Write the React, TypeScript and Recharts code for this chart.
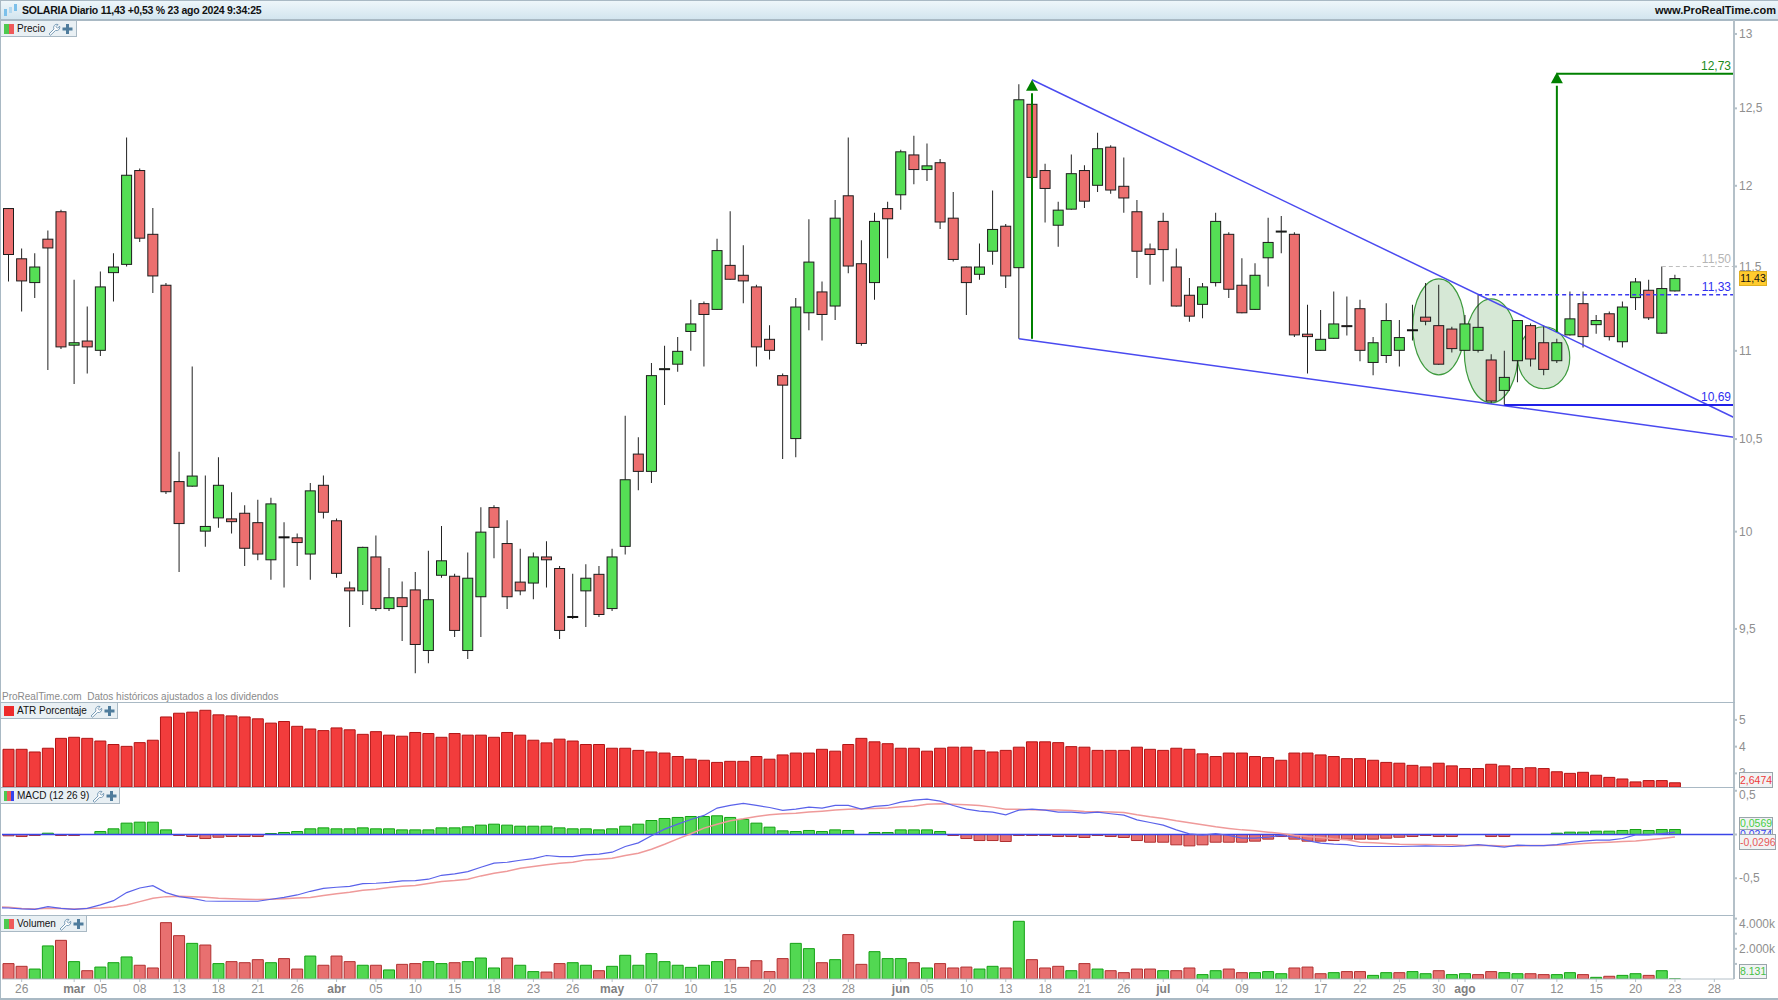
import { Bar, Cell, ComposedChart, Line, ReferenceDot, ReferenceLine, XAxis, YAxis } from 'recharts';

const opens = [
  11.86, 11.55, 11.40, 11.67, 11.84, 11.03, 11.06, 11.00, 11.46, 11.51,
  12.10, 11.70, 11.39, 10.27, 10.24, 10.00, 10.07, 10.07, 10.10, 10.05,
  9.85, 9.97, 9.97, 9.88, 10.25, 10.06, 9.71, 9.69, 9.87, 9.60,
  9.66, 9.70, 9.39, 9.77, 9.77, 9.39, 9.66, 10.13, 9.94, 9.74,
  9.73, 9.87, 9.81, 9.56, 9.69, 9.78, 9.60, 9.92, 10.42, 10.32,
  10.89, 10.92, 11.11, 11.28, 11.24, 11.51, 11.45, 11.38, 11.07, 10.86,
  10.50, 11.22, 11.35, 11.26, 11.94, 11.52, 11.40, 11.86, 11.94, 12.20,
  12.10, 12.15, 11.80, 11.50, 11.45, 11.59, 11.75, 11.49, 12.53, 12.10,
  11.75, 11.85, 12.10, 12.00, 12.25, 12.00, 11.84, 11.61, 11.78, 11.50,
  11.33, 11.27, 11.40, 11.70, 11.39, 11.24, 11.55, 11.71, 11.70, 11.10,
  11.00, 11.07, 11.15, 11.25, 10.93, 10.97, 11.00, 11.12, 11.20, 11.15,
  11.13, 11.00, 11.00, 10.95, 10.77, 10.94, 11.15, 11.05, 10.94, 11.09,
  11.28, 11.15, 11.22, 11.05, 11.31, 11.36, 11.10, 11.35,
];
const closes = [
  11.57, 11.41, 11.50, 11.61, 11.02, 11.05, 11.02, 11.38, 11.50, 12.07,
  11.67, 11.44, 10.21, 10.04, 10.30, 10.03, 10.25, 10.05, 9.91, 9.88,
  10.15, 9.97, 9.94, 10.22, 10.10, 9.78, 9.69, 9.92, 9.60, 9.66,
  9.61, 9.42, 9.65, 9.85, 9.49, 9.76, 10.00, 10.02, 9.66, 9.69,
  9.87, 9.85, 9.49, 9.56, 9.76, 9.57, 9.87, 10.28, 10.32, 10.86,
  10.90, 11.00, 11.16, 11.21, 11.60, 11.42, 11.41, 11.02, 11.00, 10.80,
  11.26, 11.53, 11.21, 11.80, 11.50, 11.04, 11.78, 11.79, 12.22, 12.10,
  12.13, 11.77, 11.54, 11.40, 11.50, 11.73, 11.44, 12.56, 12.05, 11.98,
  11.85, 12.08, 11.90, 12.24, 11.97, 11.92, 11.59, 11.57, 11.60, 11.26,
  11.20, 11.38, 11.78, 11.36, 11.22, 11.45, 11.65, 11.72, 11.09, 11.08,
  11.07, 11.16, 11.14, 11.00, 11.05, 11.18, 11.08, 11.12, 11.17, 10.92,
  11.01, 11.16, 11.14, 10.71, 10.85, 11.18, 10.95, 10.89, 11.05, 11.19,
  11.08, 11.18, 11.08, 11.26, 11.41, 11.19, 11.37, 11.43,
];
const highs = [
  11.86, 11.61, 11.58, 11.72, 11.85, 11.42, 11.26, 11.47, 11.58, 12.31,
  12.11, 11.86, 11.40, 10.43, 10.91, 10.30, 10.40, 10.21, 10.14, 10.17,
  10.18, 10.05, 9.99, 10.26, 10.30, 10.07, 9.74, 9.92, 9.98, 9.81,
  9.74, 9.79, 9.90, 10.03, 9.78, 9.89, 10.13, 10.14, 10.06, 9.91,
  9.89, 9.95, 9.82, 9.78, 9.83, 9.82, 9.91, 10.63, 10.51, 10.93,
  11.03, 11.08, 11.30, 11.29, 11.67, 11.84, 11.63, 11.39, 11.15, 10.87,
  11.31, 11.79, 11.41, 11.91, 12.31, 11.66, 11.83, 11.90, 12.23, 12.32,
  12.27, 12.17, 11.96, 11.50, 11.64, 11.97, 11.76, 12.66, 12.53, 12.14,
  11.90, 12.20, 12.13, 12.34, 12.26, 12.18, 11.91, 11.64, 11.83, 11.61,
  11.43, 11.40, 11.83, 11.71, 11.55, 11.52, 11.80, 11.81, 11.71, 11.27,
  11.24, 11.35, 11.32, 11.30, 11.08, 11.28, 11.18, 11.27, 11.40, 11.39,
  11.14, 11.21, 11.33, 10.98, 11.00, 11.18, 11.16, 11.15, 11.07, 11.35,
  11.35, 11.21, 11.23, 11.29, 11.43, 11.42, 11.50, 11.45,
];
const lows = [
  11.41, 11.23, 11.31, 10.89, 11.01, 10.81, 10.87, 10.97, 11.29, 11.50,
  11.65, 11.34, 10.20, 9.79, 10.24, 9.92, 10.02, 9.99, 9.82, 9.85,
  9.75, 9.71, 9.82, 9.75, 10.07, 9.76, 9.51, 9.62, 9.59, 9.59,
  9.44, 9.28, 9.33, 9.76, 9.46, 9.35, 9.46, 9.86, 9.60, 9.67,
  9.65, 9.71, 9.45, 9.55, 9.51, 9.56, 9.59, 9.88, 10.22, 10.26,
  10.69, 10.88, 11.00, 10.91, 11.24, 11.42, 11.28, 10.91, 10.95, 10.39,
  10.40, 11.12, 11.06, 11.18, 11.46, 11.03, 11.30, 11.55, 11.85, 12.01,
  12.03, 11.73, 11.53, 11.21, 11.42, 11.51, 11.37, 11.07, 12.05, 11.77,
  11.62, 11.85, 11.86, 11.96, 11.95, 11.83, 11.43, 11.39, 11.41, 11.26,
  11.17, 11.19, 11.38, 11.31, 11.22, 11.24, 11.38, 11.58, 11.08, 10.87,
  11.00, 11.07, 11.09, 10.94, 10.86, 10.93, 10.91, 11.06, 11.15, 10.92,
  10.99, 11.00, 10.99, 10.70, 10.69, 10.82, 10.91, 10.86, 10.93, 11.09,
  11.02, 11.10, 11.06, 11.02, 11.24, 11.18, 11.10, 11.35,
];
const atr = [
  3.90, 3.90, 3.80, 3.94, 4.31, 4.35, 4.31, 4.21, 4.08, 4.01,
  4.15, 4.24, 5.11, 5.25, 5.29, 5.36, 5.19, 5.15, 5.11, 5.04,
  4.88, 4.94, 4.76, 4.66, 4.60, 4.70, 4.63, 4.46, 4.56, 4.43,
  4.39, 4.53, 4.49, 4.35, 4.49, 4.43, 4.43, 4.35, 4.53, 4.43,
  4.24, 4.14, 4.28, 4.21, 4.08, 4.08, 3.94, 3.94, 3.86, 3.80,
  3.76, 3.63, 3.53, 3.49, 3.41, 3.45, 3.45, 3.63, 3.53, 3.69,
  3.76, 3.76, 3.90, 3.83, 4.08, 4.31, 4.18, 4.11, 3.94, 3.94,
  3.83, 3.94, 3.98, 3.98, 3.86, 3.80, 3.86, 3.98, 4.18, 4.18,
  4.15, 4.00, 3.98, 3.86, 3.86, 3.86, 3.98, 3.90, 3.86, 3.94,
  3.90, 3.73, 3.63, 3.76, 3.76, 3.63, 3.59, 3.49, 3.76, 3.76,
  3.69, 3.63, 3.55, 3.55, 3.49, 3.41, 3.38, 3.30, 3.24, 3.38,
  3.28, 3.18, 3.18, 3.34, 3.28, 3.18, 3.21, 3.18, 3.06, 3.00,
  3.04, 2.93, 2.85, 2.79, 2.68, 2.73, 2.73, 2.6474,
];
const macdLine = [
  -0.840, -0.851, -0.855, -0.824, -0.844, -0.855, -0.844, -0.805, -0.756, -0.664,
  -0.611, -0.584, -0.664, -0.710, -0.729, -0.760, -0.763, -0.763, -0.763, -0.763,
  -0.740, -0.718, -0.691, -0.649, -0.615, -0.603, -0.592, -0.561, -0.557, -0.546,
  -0.531, -0.527, -0.511, -0.466, -0.450, -0.424, -0.374, -0.328, -0.317, -0.294,
  -0.275, -0.240, -0.252, -0.252, -0.233, -0.225, -0.202, -0.137, -0.095, -0.015,
  0.061, 0.118, 0.172, 0.218, 0.302, 0.332, 0.355, 0.332, 0.309, 0.275,
  0.290, 0.313, 0.302, 0.332, 0.332, 0.290, 0.321, 0.332, 0.370, 0.393,
  0.405, 0.382, 0.332, 0.290, 0.267, 0.256, 0.225, 0.279, 0.290, 0.279,
  0.256, 0.256, 0.244, 0.256, 0.237, 0.221, 0.168, 0.137, 0.107, 0.053,
  0.008, -0.008, 0.011, -0.011, -0.042, -0.042, -0.031, -0.011, -0.031, -0.069,
  -0.099, -0.111, -0.115, -0.137, -0.137, -0.137, -0.137, -0.134, -0.130, -0.134,
  -0.137, -0.130, -0.115, -0.130, -0.145, -0.122, -0.126, -0.126, -0.115, -0.092,
  -0.076, -0.065, -0.065, -0.046, -0.004, -0.004, 0.011, 0.0274,
];
const macdSignal = [
  -0.832, -0.847, -0.851, -0.844, -0.847, -0.851, -0.847, -0.840, -0.828, -0.805,
  -0.767, -0.729, -0.710, -0.706, -0.710, -0.718, -0.729, -0.733, -0.740, -0.744,
  -0.740, -0.733, -0.725, -0.721, -0.698, -0.676, -0.660, -0.637, -0.626, -0.607,
  -0.592, -0.584, -0.561, -0.538, -0.527, -0.511, -0.473, -0.443, -0.420, -0.385,
  -0.366, -0.347, -0.328, -0.317, -0.290, -0.282, -0.271, -0.240, -0.214, -0.168,
  -0.111, -0.050, 0.008, 0.073, 0.118, 0.156, 0.179, 0.206, 0.225, 0.237,
  0.244, 0.256, 0.267, 0.279, 0.290, 0.294, 0.298, 0.302, 0.317, 0.324,
  0.347, 0.351, 0.347, 0.340, 0.332, 0.313, 0.290, 0.290, 0.282, 0.279,
  0.279, 0.275, 0.263, 0.260, 0.256, 0.252, 0.225, 0.202, 0.183, 0.156,
  0.134, 0.111, 0.088, 0.069, 0.053, 0.042, 0.027, 0.011, -0.008, -0.023,
  -0.034, -0.050, -0.061, -0.088, -0.095, -0.103, -0.111, -0.115, -0.115, -0.118,
  -0.118, -0.126, -0.126, -0.126, -0.130, -0.130, -0.126, -0.126, -0.122, -0.115,
  -0.103, -0.095, -0.088, -0.080, -0.073, -0.061, -0.046, -0.0296,
];
// the session before the first candle, only visible as the start of both lines
const macdBefore = -0.835;
const signalBefore = -0.825;
const macdHist = [
  -0.015, -0.023, -0.011, 0.015, -0.011, -0.011, 0, 0.034, 0.065, 0.13,
  0.141, 0.141, 0.053, -0.011, -0.023, -0.046, -0.031, -0.023, -0.023, -0.023,
  0.011, 0.023, 0.034, 0.065, 0.076, 0.065, 0.065, 0.076, 0.065, 0.065,
  0.053, 0.053, 0.053, 0.076, 0.076, 0.088, 0.107, 0.118, 0.107, 0.095,
  0.095, 0.095, 0.076, 0.065, 0.065, 0.053, 0.065, 0.095, 0.118, 0.16,
  0.183, 0.195, 0.206, 0.206, 0.214, 0.195, 0.172, 0.13, 0.084, 0.042,
  0.034, 0.046, 0.034, 0.053, 0.046, 0, 0.023, 0.023, 0.053, 0.053,
  0.053, 0.034, -0.011, -0.046, -0.069, -0.069, -0.08, -0.011, -0.011, -0.011,
  -0.023, -0.023, -0.034, -0.011, -0.023, -0.034, -0.069, -0.088, -0.088, -0.118,
  -0.13, -0.118, -0.088, -0.088, -0.088, -0.076, -0.053, -0.023, -0.053, -0.076,
  -0.076, -0.069, -0.053, -0.053, -0.053, -0.042, -0.031, -0.023, -0.011, -0.023,
  -0.023, 0, 0, -0.023, -0.023, 0, 0, 0, 0.015, 0.027,
  0.027, 0.038, 0.038, 0.046, 0.057, 0.046, 0.057, 0.0569,
];
// volume in thousands of shares
const volume = [
  1020, 840, 660, 2190, 2560, 1150, 550, 790, 1080, 1460,
  910, 730, 3730, 2870, 2360, 2250, 1020, 1150, 1080, 1280,
  1080, 1350, 660, 1520, 910, 1520, 1150, 910, 910, 600,
  970, 1020, 1150, 1020, 1080, 1150, 1390, 730, 1390, 910,
  490, 460, 1020, 1080, 910, 550, 840, 1570, 910, 1680,
  1150, 910, 770, 910, 1150, 1280, 770, 1210, 490, 1350,
  2360, 2010, 1080, 1280, 2940, 970, 1810, 1350, 1350, 1080,
  730, 1020, 730, 790, 660, 840, 730, 3820, 1280, 730,
  840, 550, 1020, 660, 550, 420, 660, 660, 550, 550,
  730, 290, 550, 660, 420, 420, 490, 350, 730, 790,
  350, 420, 490, 490, 240, 420, 420, 490, 350, 550,
  290, 350, 290, 490, 420, 350, 350, 290, 290, 420,
  290, 110, 180, 240, 350, 240, 550, 8.131,
];
const volumeSides =
  'RRGGRGRGGGRRRRGRGRRRGRRGRRRGRGRRGGRGGGRGGRRGGR' +
  'GGGGGGGGGRRRRRGGRGRR' +
  'GGGRGRRRGGRGRRRGRGRRRRGRRGGRRGGGRRRGRRGGRGGRGGRRGGRRGGRGRGGRGG';

const dateTicks = [
  1, 5, 7, 10, 13, 16, 19, 22, 25, 28, 31, 34, 37, 40, 43, 46, 49, 52, 55, 58, 61, 64,
  68, 70, 73, 76, 79, 82, 85, 88, 91, 94, 97, 100, 103, 106, 109, 111, 115, 118, 121, 124, 127, 130,
];
const dateLabels = [
  '26', 'mar', '05', '08', '13', '18', '21', '26', 'abr', '05', '10', '15', '18', '23', '26', 'may', '07', '10', '15', '20', '23', '28',
  'jun', '05', '10', '13', '18', '21', '26', 'jul', '04', '09', '12', '17', '22', '25', '30', 'ago', '07', '12', '15', '20', '23', '28',
];
const priceTicks = [9.5, 10, 10.5, 11, 11.5, 12, 12.5, 13];
const atrTicks = [3, 4, 5];
const macdTicks = [-0.5, 0, 0.5];
const volumeTicks = [1000, 2000, 3000, 4000];

const FONT = '"Liberation Sans", Arial, sans-serif';
const WIDTH = 1778;
const AXIS_GRAY = '#b4c0c8';
const TICK_GRAY = '#8f8f8f';
const X_DOMAIN = [-0.5, 131.5];
const PRICE_DOMAIN = [9.141, 13.096];
const margin = { top: 0, right: 0, bottom: 0, left: 2 };

const candles = opens.map((open, i) => ({
  i,
  open,
  close: closes[i],
  wick: [lows[i], highs[i]],
  body: [Math.min(open, closes[i]), Math.max(open, closes[i])],
}));
const rows = opens.map((_, i) => ({
  i,
  atr: atr[i],
  hist: macdHist[i],
  volume: volume[i],
  side: volumeSides[i],
}));
const lineRows = [
  { i: -1, macd: macdBefore, signal: signalBefore },
  ...opens.map((_, i) => ({ i, macd: macdLine[i], signal: macdSignal[i] })),
];

const CandleBody = (props: any) => {
  const { x, y, width, height, payload } = props;
  if (payload.open === payload.close) {
    return <rect x={x} y={y - 1} width={width} height={2} fill="#111" />;
  }
  const up = payload.close > payload.open;
  return (
    <rect
      x={x + 0.5}
      y={y + 0.5}
      width={width - 1}
      height={Math.max(height - 1, 1)}
      fill={up ? '#55df55' : '#ec6f6f'}
      stroke="#1c1c1c"
      strokeWidth={1}
    />
  );
};

const Ellipse = (rx: number, ry: number) => (props: any) => (
  <ellipse cx={props.cx} cy={props.cy} rx={rx} ry={ry} fill="#d6e8d6" stroke="#3d9a3d" strokeWidth={1.2} />
);

const ArrowHead = (props: any) => (
  <polygon
    points={`${props.cx},${props.cy} ${props.cx - 6},${props.cy + 11} ${props.cx + 6},${props.cy + 11}`}
    fill="#008000"
  />
);

const AxisTick = (labelOf: (v: number) => string, shift: (v: number) => number = () => 0) => (props: any) => (
  <text
    x={props.x}
    y={props.y + shift(props.payload.value)}
    dy={4}
    textAnchor="start"
    fontSize={12}
    fontFamily={FONT}
    fill={TICK_GRAY}
  >
    {labelOf(props.payload.value)}
  </text>
);

const comma = (v: number) => String(v).replace('.', ',');

const DateTick = (props: any) => {
  const label = dateLabels[dateTicks.indexOf(props.payload.value)];
  const month = label.length > 2;
  return (
    <text
      x={props.x}
      y={props.y}
      dy={10}
      textAnchor="middle"
      fontSize={12}
      fontFamily={FONT}
      fontWeight={month ? 700 : 400}
      fill={month ? '#7f7f7f' : TICK_GRAY}
    >
      {label}
    </text>
  );
};

const PanelTag = ({ label, top, width, colors }: { label: string; top: number; width: number; colors: string[] }) => (
  <div
    style={{
      position: 'absolute',
      left: 1,
      top,
      width,
      height: 16,
      boxSizing: 'border-box',
      background: '#e9f0f4',
      border: '1px solid #a9b9c4',
      borderLeft: 'none',
      borderTop: 'none',
      display: 'flex',
      alignItems: 'center',
      fontFamily: FONT,
      fontSize: 10,
      color: '#111',
      whiteSpace: 'nowrap',
    }}
  >
    <span style={{ display: 'flex', marginLeft: 3, marginRight: 3 }}>
      {colors.map((c, i) => (
        <span key={i} style={{ width: 10 / colors.length, height: 10, background: c }} />
      ))}
    </span>
    <span>{label}</span>
    <svg width={26} height={14} style={{ marginLeft: 2 }}>
      <path d="M2 12 L7 7 A3.2 3.2 0 0 1 11 2.5 L9 4.7 L10.6 6.3 L12.6 4.2 A3.2 3.2 0 0 1 8.6 8.4 L3.6 13.2 Z" fill="#fff" stroke="#6d93b0" strokeWidth={0.9} />
      <path d="M19 2 h3 v3.5 h3.5 v3 h-3.5 v3.5 h-3 v-3.5 h-3.5 v-3 h3.5 z" fill="#4f7c9c" />
    </svg>
  </div>
);

const Badge = ({ text, top, left = 1739, width, height, color, bg = '#f1f3f4', border = '#9aa5ab', textTop = 0 }: any) => (
  <div
    style={{
      position: 'absolute',
      left,
      top,
      width,
      height,
      boxSizing: 'border-box',
      background: bg,
      border: `1px solid ${border}`,
      color,
      fontFamily: FONT,
      fontSize: 10.5,
      lineHeight: `${height - 2 + textTop}px`,
      textAlign: 'center',
    }}
  >
    {text}
  </div>
);

const LevelText = ({ text, top, color }: { text: string; top: number; color: string }) => (
  <div
    style={{
      position: 'absolute',
      right: WIDTH - 1731,
      top,
      fontFamily: FONT,
      fontSize: 12,
      lineHeight: '14px',
      color,
    }}
  >
    {text}
  </div>
);

export default function App() {
  return (
    <div style={{ position: 'absolute', left: 0, top: 0, width: WIDTH, height: 1000, background: '#fff', overflow: 'hidden' }}>
      {/* title bar */}
      <div
        style={{
          position: 'absolute',
          left: 0,
          top: 0,
          width: WIDTH,
          height: 21,
          boxSizing: 'border-box',
          background: 'linear-gradient(#eef6fa, #d3e5ef)',
          borderTop: '1px solid #a9b9c4',
          borderBottom: '2px solid #a9b9c4',
          fontFamily: FONT,
          fontSize: 10.5,
          fontWeight: 700,
          lineHeight: '18px',
          color: '#111',
        }}
      >
        <svg width={16} height={16} style={{ position: 'absolute', left: 3, top: 1 }}>
          <rect x={1} y={7} width={3} height={7} fill="#7cc0ea" />
          <rect x={6} y={5} width={3} height={6} fill="#b5d9ef" />
          <rect x={11} y={2} width={3} height={7} fill="#7cc0ea" />
        </svg>
        <span style={{ position: 'absolute', left: 22, letterSpacing: -0.25 }}>SOLARIA Diario 11,43 +0,53 % 23 ago 2024 9:34:25</span>
        <span style={{ position: 'absolute', right: 2, fontSize: 11 }}>www.ProRealTime.com</span>
      </div>

      {/* ellipses sit under the candles, so they get their own layer */}
      <div style={{ position: 'absolute', left: 0, top: 20 }}>
        <ComposedChart width={WIDTH} height={682} data={candles} margin={{ ...margin, right: 44 }}>
          <XAxis dataKey="i" type="number" domain={X_DOMAIN} allowDataOverflow hide />
          <YAxis hide scale="log" domain={PRICE_DOMAIN} allowDataOverflow />
          <ReferenceDot x={109} y={11.14} r={1} shape={Ellipse(26, 48)} />
          <ReferenceDot x={113} y={11.0} r={1} shape={Ellipse(27, 52)} />
          <ReferenceDot x={117} y={10.96} r={1} shape={Ellipse(26, 31)} />
        </ComposedChart>
      </div>

      {/* price panel */}
      <div style={{ position: 'absolute', left: 0, top: 20 }}>
        <ComposedChart width={WIDTH} height={682} data={candles} margin={margin}>
          <XAxis xAxisId="body" dataKey="i" type="number" domain={X_DOMAIN} allowDataOverflow hide />
          <XAxis xAxisId="wick" dataKey="i" type="number" domain={X_DOMAIN} allowDataOverflow hide />
          <YAxis
            orientation="right"
            width={44}
            scale="log"
            domain={PRICE_DOMAIN}
            allowDataOverflow
            ticks={priceTicks}
            interval={0}
            tickSize={3}
            tickMargin={2}
            stroke={AXIS_GRAY}
            strokeWidth={2}
            tick={AxisTick(comma)}
          />
          <Bar xAxisId="wick" dataKey="wick" barSize={1} fill="#222" isAnimationActive={false} />
          <Bar xAxisId="body" dataKey="body" barSize={11} shape={CandleBody} isAnimationActive={false} />
          <ReferenceLine xAxisId="body" segment={[{ x: 78, y: 12.69 }, { x: 131.5, y: 10.62 }]} stroke="#4a4af0" strokeWidth={1.5} />
          <ReferenceLine xAxisId="body" segment={[{ x: 77, y: 11.07 }, { x: 131.5, y: 10.51 }]} stroke="#4a4af0" strokeWidth={1.5} />
          <ReferenceLine xAxisId="body" segment={[{ x: 78, y: 11.07 }, { x: 78, y: 12.6 }]} stroke="#008000" strokeWidth={2} />
          <ReferenceDot xAxisId="body" x={78} y={12.69} r={1} shape={ArrowHead} />
          <ReferenceLine xAxisId="body" segment={[{ x: 118, y: 11.11 }, { x: 118, y: 12.65 }]} stroke="#008000" strokeWidth={2} />
          <ReferenceDot xAxisId="body" x={118} y={12.74} r={1} shape={ArrowHead} />
          <ReferenceLine xAxisId="body" segment={[{ x: 118, y: 12.73 }, { x: 131.5, y: 12.73 }]} stroke="#008000" strokeWidth={2} />
          <ReferenceLine xAxisId="body" segment={[{ x: 112, y: 11.33 }, { x: 131.5, y: 11.33 }]} stroke="#3a3af0" strokeWidth={1.5} strokeDasharray="4 3" />
          <ReferenceLine xAxisId="body" segment={[{ x: 114, y: 10.69 }, { x: 131.5, y: 10.69 }]} stroke="#2020e8" strokeWidth={2} />
          <ReferenceLine xAxisId="body" segment={[{ x: 126, y: 11.5 }, { x: 131.5, y: 11.5 }]} stroke="#bdbdbd" strokeWidth={1} strokeDasharray="4 3" />
        </ComposedChart>
      </div>

      {/* ATR panel */}
      <div style={{ position: 'absolute', left: 0, top: 702 }}>
        <ComposedChart width={WIDTH} height={85} data={rows} margin={margin}>
          <XAxis dataKey="i" type="number" domain={X_DOMAIN} allowDataOverflow hide />
          <YAxis
            orientation="right"
            width={44}
            domain={[2.49, 5.67]}
            allowDataOverflow
            ticks={atrTicks}
            interval={0}
            tickSize={3}
            tickMargin={2}
            stroke={AXIS_GRAY}
            strokeWidth={2}
            tick={AxisTick(comma)}
          />
          <Bar dataKey="atr" barSize={11} fill="#f23c3c" stroke="#b01515" isAnimationActive={false} />
        </ComposedChart>
      </div>

      {/* MACD panel */}
      <div style={{ position: 'absolute', left: 0, top: 787 }}>
        <ComposedChart width={WIDTH} height={128} data={rows} margin={margin}>
          <XAxis dataKey="i" type="number" domain={X_DOMAIN} allowDataOverflow hide />
          <YAxis
            orientation="right"
            width={44}
            domain={[-0.92, 0.543]}
            allowDataOverflow
            ticks={macdTicks}
            interval={0}
            tickSize={3}
            tickMargin={2}
            stroke={AXIS_GRAY}
            strokeWidth={2}
            tick={AxisTick(comma, (v) => (v === 0.5 ? 4 : 0))}
          />
          <Bar dataKey="hist" barSize={11} isAnimationActive={false}>
            {rows.map((r) => (
              <Cell key={r.i} fill={r.hist >= 0 ? '#52d852' : '#e87070'} stroke={r.hist >= 0 ? '#14a014' : '#b03030'} />
            ))}
          </Bar>
          <ReferenceLine y={0} stroke="#3a45e8" strokeWidth={1.5} />
          <Line data={lineRows} dataKey="signal" stroke="#ef9a9a" strokeWidth={1.5} dot={false} isAnimationActive={false} />
          <Line data={lineRows} dataKey="macd" stroke="#5a62ea" strokeWidth={1.2} dot={false} isAnimationActive={false} />
        </ComposedChart>
      </div>

      {/* volume panel and dates */}
      <div style={{ position: 'absolute', left: 0, top: 915 }}>
        <ComposedChart width={WIDTH} height={85} data={rows} margin={margin}>
          <XAxis
            dataKey="i"
            type="number"
            domain={X_DOMAIN}
            allowDataOverflow
            ticks={dateTicks}
            interval={0}
            height={21}
            tickSize={3}
            tickMargin={1}
            stroke={AXIS_GRAY}
            tick={DateTick}
          />
          <YAxis
            orientation="right"
            width={44}
            domain={[0, 4238]}
            allowDataOverflow
            ticks={volumeTicks}
            interval={0}
            tickSize={3}
            tickMargin={2}
            stroke={AXIS_GRAY}
            strokeWidth={2}
            tick={AxisTick((v) => (v === 4000 ? '4.000k' : v === 2000 ? '2.000k' : ''), (v) => (v === 4000 ? 5 : 0))}
          />
          <Bar dataKey="volume" barSize={11} isAnimationActive={false}>
            {rows.map((r) => (
              <Cell key={r.i} fill={r.side === 'G' ? '#52d852' : '#e87070'} stroke={r.side === 'G' ? '#14a014' : '#b03030'} />
            ))}
          </Bar>
        </ComposedChart>
      </div>

      {/* frame and separators */}
      <div style={{ position: 'absolute', left: 0, top: 0, width: 1, height: 1000, background: '#a9b9c4' }} />
      <div style={{ position: 'absolute', left: 0, top: 998, width: WIDTH, height: 2, background: '#a9b9c4' }} />
      <div style={{ position: 'absolute', left: 0, top: 702, width: 1735, height: 1, background: '#a9b9c4' }} />
      <div style={{ position: 'absolute', left: 0, top: 787, width: 1735, height: 1, background: '#a9b9c4' }} />
      <div style={{ position: 'absolute', left: 0, top: 915, width: 1735, height: 1, background: '#a9b9c4' }} />

      <PanelTag label="Precio" top={21} width={76} colors={['#4fc94f', '#ef5a5a']} />
      <PanelTag label="ATR Porcentaje" top={703} width={117} colors={['#ee2b2b']} />
      <PanelTag label="MACD (12 26 9)" top={788} width={119} colors={['#4fc94f', '#ef5a5a', '#3344ee']} />
      <PanelTag label="Volumen" top={916} width={86} colors={['#4fc94f', '#ef5a5a']} />

      <div style={{ position: 'absolute', left: 2, top: 691, fontFamily: FONT, fontSize: 10, lineHeight: '12px', color: '#8a8a8a' }}>
        ProRealTime.com&nbsp; Datos históricos ajustados a los dividendos
      </div>

      <LevelText text="12,73" top={59} color="#1a8a1a" />
      <LevelText text="11,50" top={252} color="#b5b5b5" />
      <LevelText text="11,33" top={280} color="#2f2ff0" />
      <LevelText text="10,69" top={390} color="#2f2ff0" />

      <Badge text="11,43" top={271} width={28} height={15} color="#111" bg="#ffcb2e" border="#e0b020" />
      <Badge text="2,6474" top={772} width={34} height={16} color="#ef3a3a" />
      <Badge text="0,0569" top={817} width={34} height={13} color="#45cf45" />
      <Badge text="0,0274" top={829} width={34} height={10} color="#3344ee" />
      <Badge text="-0,0296" top={834} width={37} height={16} color="#e85a5a" />
      <Badge text="8.131" top={964} width={28} height={15} color="#45c045" />
    </div>
  );
}
